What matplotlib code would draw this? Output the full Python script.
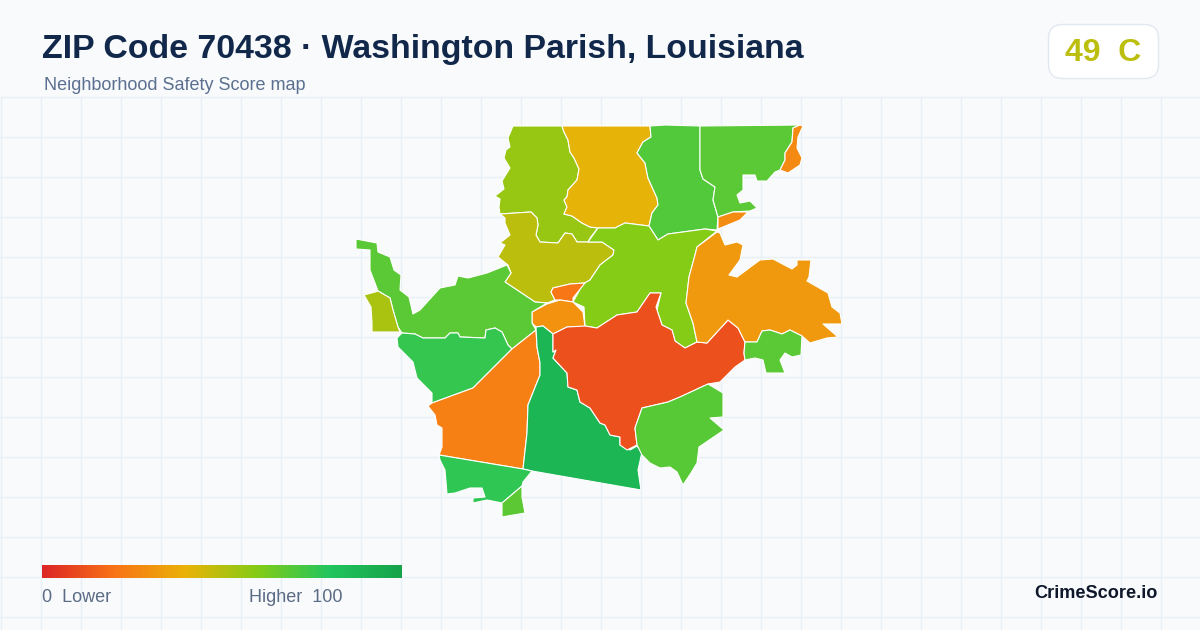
import numpy as np
import matplotlib
matplotlib.use("Agg")
import matplotlib.pyplot as plt
from matplotlib.colors import LinearSegmentedColormap
from matplotlib.patches import FancyBboxPatch, Polygon

plt.rcParams['font.family'] = ['Liberation Sans', 'DejaVu Sans']

TITLE = "ZIP Code 70438 · Washington Parish, Louisiana"
SUBTITLE = "Neighborhood Safety Score map"
BADGE = "49  C"
BRAND = "CrimeScore.io"
LOW_LABEL = "0  Lower"
HIGH_LABEL = "Higher  100"

STOPS = [(0.0, "#dc2626"), (0.2, "#f97316"), (0.4, "#eab308"),
         (0.6, "#84cc16"), (0.8, "#22c55e"), (1.0, "#16a34a")]

# Neighbourhood outlines (pixel positions of the map) and their scores
north_west = [(513,126),(562,126),(564,132),(568,140),(570,152),(574,158),(579,169),(577,180),(568,190),(567,197),(564,200),(567,207),(564,214),(572,216),(582,223),(590,227),(598,228),(590,238),(588,242),(577,242),(572,234),(565,233),(558,243),(540,242),(536,235),(538,225),(537,218),(531,212),(500,214),(499,207),(500,199),(495,196),(504,189),(502,181),(510,168),(504,158),(506,150),(510,147),(508,138)]
north_centre = [(562,126),(650,126),(651,137),(643,142),(637,153),(645,163),(648,178),(657,198),(658,205),(652,213),(649,226),(625,223),(615,228),(598,228),(590,227),(582,223),(572,216),(564,214),(567,207),(564,200),(567,197),(568,190),(577,180),(579,169),(574,158),(570,152),(568,140),(564,132)]
north_east = [(650,126),(665,125),(700,126),(700,170),(703,179),(715,187),(713,200),(718,217),(717,230),(705,229),(668,234),(658,240),(649,226),(652,213),(658,205),(657,198),(648,178),(645,163),(637,153),(643,142),(651,137)]
far_north_east = [(700,126),(800,125),(793,128),(792,142),(785,153),(785,160),(780,170),(775,172),(767,181),(757,181),(755,175),(743,175),(743,190),(737,195),(740,203),(750,201),(757,208),(750,211),(733,212),(718,217),(713,200),(715,187),(703,179),(700,170)]
corner_sliver = [(800,125),(803,126),(798,137),(797,148),(802,158),(800,165),(788,173),(780,170),(785,160),(785,153),(792,142),(793,128)]
river_sliver = [(718,217),(733,212),(748,212),(740,220),(718,229)]
olive_mid = [(500,214),(531,212),(537,218),(538,225),(536,235),(540,242),(558,243),(565,233),(572,234),(577,242),(602,242),(614,250),(613,255),(600,265),(590,280),(585,283),(570,284),(553,288),(551,292),(555,300),(547,303),(535,302),(520,292),(505,282),(511,273),(508,265),(498,257),(505,245),(500,243),(510,235),(505,223),(505,218)]
lime_mid = [(598,228),(615,228),(625,223),(649,226),(658,240),(668,234),(705,229),(717,231),(697,247),(695,255),(689,277),(686,303),(693,323),(697,342),(685,348),(675,341),(672,330),(662,325),(657,310),(661,293),(650,293),(637,312),(617,315),(597,328),(585,326),(584,307),(573,302),(583,284),(590,280),(600,265),(613,255),(614,250),(602,242),(588,242)]
tiny_orange = [(553,288),(570,284),(585,283),(573,298),(573,302),(560,300),(555,300),(551,292)]
centre_orange = [(532,312),(547,304),(560,300),(573,302),(583,312),(585,327),(567,327),(553,334),(543,326),(536,327),(532,323)]
west_long = [(356,239),(377,243),(378,252),(390,257),(394,270),(401,275),(400,290),(409,297),(413,314),(420,310),(440,288),(455,285),(458,276),(468,278),(487,273),(507,265),(511,273),(505,282),(520,292),(535,302),(547,303),(532,312),(532,323),(536,330),(512,349),(508,345),(502,332),(495,328),(486,330),(485,338),(460,337),(458,333),(450,333),(445,338),(423,338),(415,334),(402,333),(398,327),(393,310),(390,298),(378,291),(375,283),(370,270),(370,250),(356,249)]
west_pocket = [(364,295),(375,292),(378,291),(390,298),(393,310),(398,327),(400,332),(372,332),(372,322),(371,307)]
south_west = [(397,338),(402,333),(415,334),(423,338),(445,338),(450,333),(458,333),(460,337),(485,338),(486,330),(495,328),(502,332),(508,345),(512,349),(473,388),(432,403),(432,393),(417,378),(413,362),(398,347)]
orange_wedge = [(432,403),(428,406),(435,415),(437,425),(442,428),(442,447),(439,455),(523,469),(527,433),(528,405),(540,375),(540,363),(537,347),(536,330),(512,349),(473,388)]
dark_green = [(536,327),(543,326),(553,334),(553,352),(556,350),(553,358),(567,373),(568,387),(577,390),(580,402),(590,408),(600,423),(605,425),(610,435),(620,437),(620,445),(630,450),(637,446),(642,452),(638,470),(641,490),(532,471),(523,469),(527,433),(528,405),(540,375),(540,363),(537,347)]
south_band = [(439,455),(523,469),(532,471),(523,482),(522,486),(502,503),(487,500),(473,503),(473,498),(485,497),(482,488),(470,488),(455,493),(447,494),(445,470),(440,460)]
south_tip = [(522,486),(502,503),(502,517),(525,513),(522,497)]
red_core = [(650,293),(661,293),(656,307),(657,310),(662,325),(672,330),(675,341),(685,348),(697,342),(707,343),(717,332),(728,320),(738,328),(745,342),(744,353),(745,360),(735,367),(720,382),(708,384),(680,397),(668,402),(642,408),(635,428),(637,445),(627,450),(620,445),(620,437),(610,435),(605,425),(600,423),(590,408),(580,402),(577,390),(568,387),(567,373),(553,358),(556,350),(553,352),(553,334),(567,327),(585,326),(597,328),(617,315),(637,312)]
east_orange = [(717,232),(720,233),(725,245),(737,242),(743,245),(740,260),(729,275),(737,277),(760,260),(773,259),(792,269),(797,265),(797,260),(811,260),(809,277),(807,281),(828,293),(832,307),(840,313),(842,324),(823,324),(838,337),(827,338),(810,343),(802,336),(790,330),(782,334),(770,330),(762,331),(757,342),(745,342),(738,328),(728,320),(717,332),(707,343),(697,342),(693,323),(686,303),(689,277),(695,255),(697,247)]
east_small = [(745,342),(757,342),(762,331),(770,330),(782,334),(790,330),(802,336),(801,355),(792,357),(785,353),(780,360),(785,373),(766,373),(763,360),(755,358),(745,360),(744,353)]
south_east = [(642,408),(668,402),(680,397),(708,384),(723,393),(723,417),(710,418),(724,430),(699,447),(697,463),(691,473),(683,485),(677,472),(670,467),(660,468),(650,463),(642,455),(637,445),(635,428)]

areas = [north_west, north_centre, north_east, far_north_east, corner_sliver, river_sliver,
         olive_mid, lime_mid, tiny_orange, centre_orange, west_long, west_pocket, south_west,
         orange_wedge, dark_green, south_band, south_tip, red_core, east_orange, east_small, south_east]
scores = [56, 41, 70, 68.6, 27, 28,
          49, 60, 21, 30, 68.6, 52.6, 76,
          24, 89, 77, 68, 11, 32, 68.6, 69]

cmap = LinearSegmentedColormap.from_list("score", STOPS)

W, H = 1200, 630
fig = plt.figure(figsize=(W / 100, H / 100), dpi=100, facecolor="#f8fafc")
ax = fig.add_axes([0, 0, 1, 1])
ax.axis("off")

# Background grid
for x in np.arange(0.5, W, 40):
    ax.plot([x, x], [96.5, H], color="#e8f0f5", lw=0.9, zorder=1, solid_capstyle="butt")
for y in np.arange(96.5, H, 40):
    ax.plot([0, W], [y, y], color="#e8f0f5", lw=0.9, zorder=1, solid_capstyle="butt")

# Map
for outline, score in zip(areas, scores):
    ax.add_patch(Polygon(outline, closed=True, facecolor=cmap(score / 100),
                         edgecolor="white", lw=0.8, joinstyle="round", zorder=2))

# Legend bar
ax.imshow(np.linspace(0, 1, 360)[None, :], extent=(42, 402, 578, 565), cmap=cmap,
          aspect="auto", zorder=3, vmin=0, vmax=1, interpolation="bilinear")
ax.text(42, 598, LOW_LABEL, fontsize=12.95, color="#5b6b85", va="center", ha="left", zorder=4)
ax.text(249, 598, HIGH_LABEL, fontsize=12.95, color="#5b6b85", va="center", ha="left", zorder=4)

# Header
ax.text(42, 49.5, TITLE, fontsize=24.4, fontweight="bold", color="#12284b", va="center", ha="left", zorder=4)
ax.text(44, 86, SUBTITLE, fontsize=12.95, color="#5b7090", va="center", ha="left", zorder=4)

# Badge
ax.add_patch(FancyBboxPatch((1048.5, 24.5), 110, 54, boxstyle="round,pad=0,rounding_size=14",
                            facecolor="white", edgecolor="#e2e8f0", lw=1.0, zorder=3))
ax.text(1103, 53, BADGE, fontsize=23, fontweight="bold", color=cmap(49 / 100), va="center", ha="center", zorder=4)

# Brand
ax.text(1158, 594, BRAND, fontsize=13.1, fontweight="bold", color="#0f172a", va="center", ha="right", zorder=4)

ax.set_xlim(0, W)
ax.set_ylim(H, 0)
fig.savefig("out.png", dpi=100, facecolor=fig.get_facecolor())
